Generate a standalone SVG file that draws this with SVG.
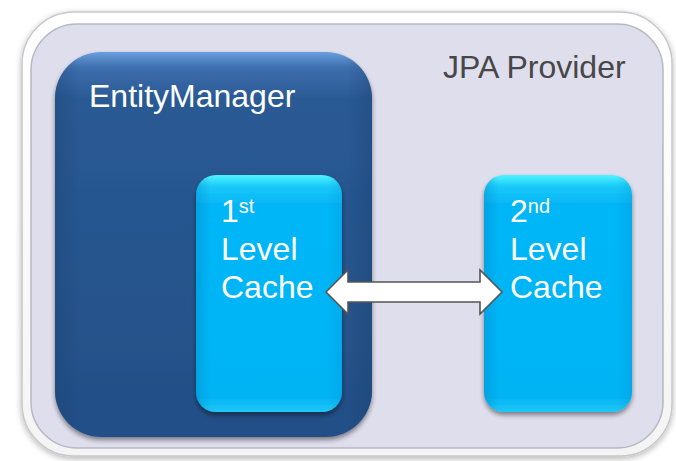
<svg xmlns="http://www.w3.org/2000/svg" width="676" height="461" viewBox="0 0 676 461">
  <style>
    .lbl { font-family: "Liberation Sans", Arial, sans-serif; fill: #ffffff; }
    .big { font-size: 32px; }
    .sup { font-size: 20px; }
    .prov { font-family: "Liberation Sans", Arial, sans-serif; font-size: 32px; fill: #474747; }
    .conn { fill: #ffffff; stroke: #555555; stroke-width: 1.6; stroke-linejoin: miter; }
  </style>
  <defs>
    <linearGradient id="frameGrad" x1="0" y1="0" x2="0" y2="1">
      <stop offset="0" stop-color="#ffffff"/>
      <stop offset="1" stop-color="#f4f4f4"/>
    </linearGradient>
    <linearGradient id="emGrad" x1="0" y1="0" x2="0" y2="1">
      <stop offset="0" stop-color="#6a9edc"/>
      <stop offset="0.04" stop-color="#3e6fae"/>
      <stop offset="0.12" stop-color="#2a5a94"/>
      <stop offset="1" stop-color="#234f86"/>
    </linearGradient>
    <linearGradient id="emSide" x1="0" y1="0" x2="1" y2="0">
      <stop offset="0" stop-color="#1a3f6e" stop-opacity="0.35"/>
      <stop offset="0.08" stop-color="#1a3f6e" stop-opacity="0"/>
      <stop offset="0.92" stop-color="#1a3f6e" stop-opacity="0"/>
      <stop offset="1" stop-color="#1a3f6e" stop-opacity="0.35"/>
    </linearGradient>
    <linearGradient id="cacheGrad" x1="0" y1="0" x2="0" y2="1">
      <stop offset="0" stop-color="#4ff4ff"/>
      <stop offset="0.05" stop-color="#18c8f8"/>
      <stop offset="0.12" stop-color="#06b6f6"/>
      <stop offset="0.94" stop-color="#04b4f4"/>
      <stop offset="1" stop-color="#1ec8f6"/>
    </linearGradient>
    <linearGradient id="cacheSide" x1="0" y1="0" x2="1" y2="0">
      <stop offset="0" stop-color="#0080c0" stop-opacity="0.35"/>
      <stop offset="0.1" stop-color="#0080c0" stop-opacity="0"/>
      <stop offset="0.9" stop-color="#0080c0" stop-opacity="0"/>
      <stop offset="1" stop-color="#0080c0" stop-opacity="0.2"/>
    </linearGradient>
    <filter id="shadow" x="-10%" y="-10%" width="120%" height="125%">
      <feGaussianBlur in="SourceAlpha" stdDeviation="2.5"/>
      <feOffset dx="0" dy="3" result="b"/>
      <feComponentTransfer><feFuncA type="linear" slope="0.45"/></feComponentTransfer>
      <feMerge><feMergeNode/><feMergeNode in="SourceGraphic"/></feMerge>
    </filter>
    <filter id="frameShadow" x="-5%" y="-5%" width="110%" height="112%">
      <feGaussianBlur in="SourceAlpha" stdDeviation="3"/>
      <feOffset dx="0" dy="2"/>
      <feComponentTransfer><feFuncA type="linear" slope="0.3"/></feComponentTransfer>
      <feMerge><feMergeNode/><feMergeNode in="SourceGraphic"/></feMerge>
    </filter>
  </defs>

  <rect width="676" height="461" fill="#ffffff"/>

  <!-- JPA Provider container -->
  <g id="jpa-provider">
    <rect x="22" y="12" width="650" height="444" rx="52" fill="url(#frameGrad)" stroke="#c8c8cc" stroke-width="1.5" filter="url(#frameShadow)"/>
    <rect x="31" y="24" width="632" height="424" rx="46" fill="#dfdeed" stroke="#b8b8c4" stroke-width="1.5"/>
    <text class="prov" x="443" y="78">JPA Provider</text>
  </g>

  <!-- EntityManager -->
  <g id="entity-manager">
    <rect x="55" y="52" width="317" height="385" rx="46" fill="url(#emGrad)" filter="url(#shadow)"/>
    <rect x="55" y="52" width="317" height="385" rx="46" fill="url(#emSide)"/>
    <text class="lbl big" x="89" y="107">EntityManager</text>
  </g>

  <!-- 1st level cache -->
  <g id="first-level-cache">
    <rect x="196" y="175" width="146" height="237" rx="20" fill="url(#cacheGrad)" filter="url(#shadow)"/>
    <rect x="196" y="175" width="146" height="237" rx="20" fill="url(#cacheSide)"/>
    <text class="lbl big" x="221" y="222">1<tspan class="sup" dy="-9">st</tspan></text>
    <text class="lbl big" x="221" y="260">Level</text>
    <text class="lbl big" x="221" y="298">Cache</text>
  </g>

  <!-- 2nd level cache -->
  <g id="second-level-cache">
    <rect x="484" y="175" width="148" height="237" rx="20" fill="url(#cacheGrad)" filter="url(#shadow)"/>
    <rect x="484" y="175" width="148" height="237" rx="20" fill="url(#cacheSide)"/>
    <text class="lbl big" x="510" y="222">2<tspan class="sup" dy="-9">nd</tspan></text>
    <text class="lbl big" x="510" y="260">Level</text>
    <text class="lbl big" x="510" y="298">Cache</text>
  </g>

  <!-- Connectors -->
  <g id="connectors">
    <path class="conn" d="M326,292 L348,270 L348,282 L480,282 L480,270 L502,292 L480,314 L480,302 L348,302 L348,314 Z"/>
  </g>
</svg>
